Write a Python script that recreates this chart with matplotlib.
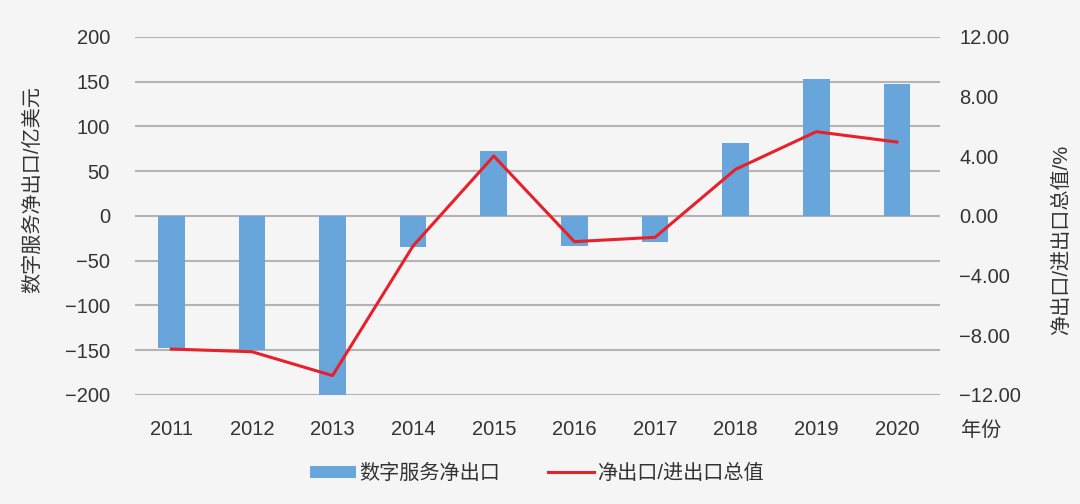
import matplotlib
matplotlib.use('Agg')
import matplotlib.pyplot as plt
from matplotlib.patches import Patch
from matplotlib.lines import Line2D

plt.rcParams['font.family'] = ['Liberation Sans', 'Noto Sans CJK SC', 'DejaVu Sans']

## dados
anos = ['2011', '2012', '2013', '2014', '2015', '2016', '2017', '2018', '2019', '2020']
saldo = [-148, -150, -200, -35, 73, -34, -29, 82, 153, 147]       # 亿美元
razao = [-8.92, -9.10, -10.70, -2.00, 4.02, -1.72, -1.43, 3.13, 5.65, 4.96]  # %
ticks_esq = [-200, -150, -100, -50, 0, 50, 100, 150, 200]
ticks_dir = [-12, -8, -4, 0, 4, 8, 12]

cor_barra = '#67a5da'
cor_linha = '#e8202a'
cor_texto = '#333333'
fundo = '#f5f5f5'
fs = 14.5

fig = plt.figure(figsize=(10.8, 5.04), dpi=100, facecolor=fundo)
ax = fig.add_axes([0.125, 0.2163, 0.745, 0.7103])
ax.set_facecolor(fundo)

x = list(range(len(anos)))
ax.bar(x, saldo, width=0.33, color=cor_barra, zorder=2)
ax.set_xlim(-0.45, 9.53)
ax.set_ylim(-200, 200)
ax.set_yticks(ticks_esq)
ax.set_yticklabels([str(t) if t >= 0 else '\u2212' + str(-t) for t in ticks_esq])
ax.set_xticks(x)
ax.set_xticklabels(anos)
ax.grid(axis='y', color='#b3b3b3', linewidth=1.5, zorder=0)
for s in ax.spines.values():
    s.set_visible(False)
ax.tick_params(axis='both', length=0, labelsize=fs, colors=cor_texto)
ax.tick_params(axis='y', pad=18)
ax.tick_params(axis='x', pad=18)
ax.set_ylabel('数字服务净出口/亿美元', fontsize=fs, color=cor_texto)
ax.yaxis.set_label_coords(-0.1156, 0.573)

ax2 = ax.twinx()
ax2.plot(x, razao, color=cor_linha, linewidth=2.2, zorder=3)
ax2.set_ylim(-12, 12)
ax2.set_yticks(ticks_dir)
ax2.set_yticklabels(['%.2f' % t if t >= 0 else '\u2212%.2f' % (-t) for t in ticks_dir])
for s in ax2.spines.values():
    s.set_visible(False)
ax2.tick_params(axis='y', length=0, labelsize=fs, colors=cor_texto, pad=14)
ax2.set_ylabel('净出口/进出口总值/%', fontsize=fs, color=cor_texto, rotation=90)
ax2.yaxis.set_label_coords(1.14, 0.433)

fig.text(0.908, 0.146, '年份', fontsize=fs, color=cor_texto, ha='center', va='center')

leg = [Patch(facecolor=cor_barra, label='数字服务净出口'),
       Line2D([0], [0], color=cor_linha, linewidth=2.2, label='净出口/进出口总值')]
fig.legend(handles=leg, loc='center', bbox_to_anchor=(0.497, 0.061), ncol=2, frameon=False,
           fontsize=fs, handlelength=2.3, handleheight=0.55, columnspacing=2.4,
           handletextpad=0.15, labelcolor=cor_texto)

fig.savefig('out.png', dpi=100, facecolor=fundo)
